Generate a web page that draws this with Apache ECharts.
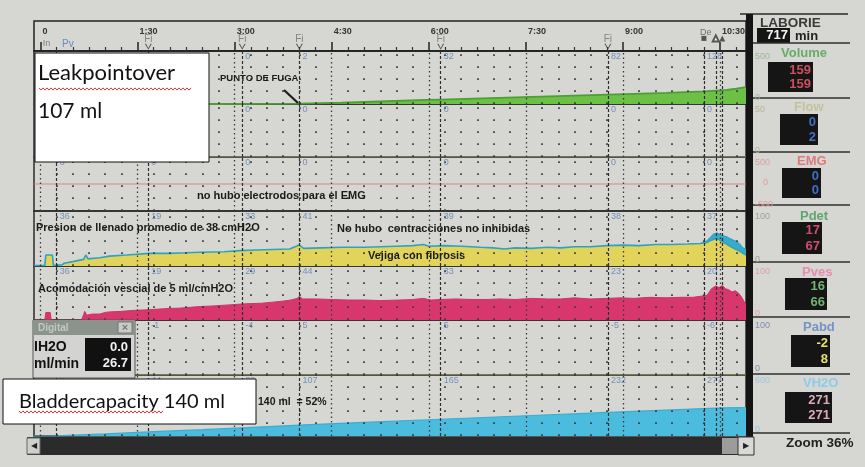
<!DOCTYPE html>
<html><head><meta charset="utf-8">
<script src="https://cdn.jsdelivr.net/npm/echarts@6.0.0/dist/echarts.min.js"></script>
<style>html,body{margin:0;padding:0;background:#d6d6d3;}#c{width:865px;height:467px;}</style>
</head><body><div id="c"></div>
<script>
// ---- data (time in seconds) ----
const timeTicks = [0, 90, 180, 270, 360, 450, 540, 630];
const timeTickLabels = ['0', '1:30', '3:00', '4:30', '6:00', '7:30', '9:00', '10:30'];
const fiTimes = [100, 187, 240, 371, 526];
const eventTimes = [15, 100, 187, 240, 371, 526, 615, 626, 632];
const labelTimes = [15, 100, 187, 240, 371, 526, 615];

const volume = [[-6,0],[162,0],[218,2],[240,4],[279,12],[357,38],[371,42],[448,65],[526,88],[580,105],[615,120],[636,132],[645,145],[654,159]];
const flow = [[-6,0],[654,0]];
const emg = [[-6,0],[654,0]];
const pdet = [[-6,1],[4,1],[5,20],[11,20],[12,1],[20,2],[22,5],[30,8],[40,12],[42,20],[44,13],[55,15],[64,18],[80,20],[101,23],[120,23],[135,24],[148,25],[170,26],[185,28],[200,29],[215,30],[231,31],[237,36],[240,38],[244,32],[260,33],[280,34],[300,34],[315,35],[330,36],[345,37],[355,39],[360,36],[375,37],[390,36],[408,34],[420,33],[430,31],[440,33],[455,32],[470,34],[482,33],[495,35],[510,35],[525,37],[540,38],[555,37],[570,39],[585,39],[600,40],[612,41],[618,43],[622,47],[626,50],[629,48],[632,44],[636,40],[640,35],[644,31],[648,27],[652,22],[654,20]];
const pdetPeak = [[612,41],[618,46],[621,52],[624,58],[627,60],[630,57],[633,55],[636,53],[639,50],[642,47],[645,45],[648,40],[651,33],[654,30]];
const pves = [[-6,0],[4,0],[5,14],[9,14],[10,0],[38,0],[40,10],[41,16],[43,9],[48,11],[55,11],[60,14],[64,15],[75,16],[88,18],[101,19],[115,21],[130,22],[148,25],[160,26],[175,28],[190,30],[205,31],[215,33],[225,35],[232,37],[238,40],[240,44],[243,39],[255,39],[270,38],[285,37],[300,37],[315,36],[333,37],[345,38],[355,40],[362,37],[371,38],[385,39],[400,38],[415,38],[426,39],[440,38],[455,40],[470,39],[482,39],[495,41],[510,39],[525,40],[538,41],[550,40],[565,42],[580,41],[593,42],[605,42],[612,44],[618,46],[622,58],[626,63],[629,60],[632,64],[635,58],[638,56],[641,52],[644,54],[647,50],[650,42],[652,35],[654,28]];
const pabd = [[-6,0],[654,0]];
const vh2o = [[-6,0],[12,0],[20,4],[60,20],[100,40],[150,62],[187,80],[240,107],[300,134],[371,165],[450,199],[526,232],[580,255],[615,270],[632,277],[654,279]];

const volLabels = ['0','0','0','2','32','82','128'];
const flowLabels = ['0','0','0','0','0','0','0'];
const emgLabels = ['0','0','0','0','0','0','0'];
const pdetLabels = ['36','19','33','41','39','38','37'];
const pvesLabels = ['36','19','29','44','33','23','20'];
const pabdLabels = ['0','-1','-4','5','5','-5','-6'];
const vh2oLabels = ['0','44','82','107','165','232','277'];

const channelNames = ['Volume','Flow','EMG','Pdet','Pves','Pabd','VH2O'];
const channelMax = [500, 50, 500, 100, 100, 100, 600];
const channelMin = [0, 0, -500, 0, 0, 0, 0];
const displayValues = [['159','159'],['0','2'],['0','0'],['17','67'],['16','66'],['-2','8'],['271','271']];

// ---- layout ----
const L = 34, R = 865 - 746;
const tops = [51, 104, 157, 211, 266, 320, 375];
const bots = [104, 157, 211, 266, 320, 375, 436];
const minor = [];
for (let t = 15; t < 654; t += 15) if (t % 90 !== 0) minor.push(t);

function vlines() {
  return {
    silent: true, symbol: 'none', animation: false, label: { show: false },
    emphasis: { disabled: true },
    data: [
      ...minor.map(t => ({ xAxis: t, lineStyle: { color: '#3a3a3a', width: 1.7, type: [1.7, 10.3] } })),
      ...timeTicks.map(t => ({ xAxis: t, lineStyle: { color: '#3a3a3a', width: 1.3, type: [1.5, 3] } })),
      ...eventTimes.map(t => ({ xAxis: t, lineStyle: { color: '#2e2e2e', width: 1.2, type: [3, 2] } }))
    ]
  };
}

const grids = [{ left: L, right: R, top: 21, height: 30, show: true, borderColor: '#222', borderWidth: 1.5 }];
tops.forEach((t, i) => grids.push({ left: L, right: R, top: t, height: bots[i] - t, show: true, borderColor: '#2b2b2b', borderWidth: 1.5 }));

const xAxes = [
  { gridIndex: 0, type: 'value', min: -6, max: 654, position: 'bottom',
    axisLine: { show: true, lineStyle: { color: '#222', width: 1.5 } },
    axisTick: { show: true, inside: true, length: 4, customValues: minor, lineStyle: { color: '#333', width: 1.2 } },
    axisLabel: { show: false }, splitLine: { show: false } },
  { gridIndex: 0, type: 'value', min: -6, max: 654, position: 'bottom',
    axisLine: { show: false },
    axisTick: { show: true, inside: true, length: 9, customValues: timeTicks, lineStyle: { color: '#222', width: 1.5 } },
    axisLabel: { show: true, inside: true, margin: 15, align: 'left', padding: [0, 0, 0, 2], customValues: timeTicks,
      formatter: v => timeTickLabels[timeTicks.indexOf(v)] || '', fontSize: 9, color: '#333', fontFamily: 'Liberation Sans', fontWeight: 'bold' },
    splitLine: { show: false } }
];
const yAxes = [{ gridIndex: 0, type: 'value', min: 0, max: 1, show: false }];
for (let i = 0; i < 7; i++) {
  xAxes.push({ gridIndex: i + 1, type: 'value', min: -6, max: 654, show: false });
  yAxes.push({ gridIndex: i + 1, type: 'value', min: channelMin[i], max: channelMax[i], show: false });
}
const ax = i => ({ xAxisIndex: i + 2, yAxisIndex: i + 1 });

function lineSeries(i, data, lineColor, width, areaColor, withLines, z) {
  const s = Object.assign({ type: 'line', data, showSymbol: false, symbol: 'none', animation: false, silent: true, z: z || 2,
    lineStyle: { color: lineColor, width }, itemStyle: { color: lineColor } }, ax(i));
  if (areaColor) s.areaStyle = { color: areaColor, opacity: 1 };
  if (withLines) s.markLine = vlines();
  return s;
}
function labelSeries(i, arr) {
  return Object.assign({ type: 'scatter', symbolSize: 0, silent: true, animation: false, z: 6,
    data: labelTimes.map(t => [t, channelMax[i]]),
    label: { show: true, position: [3, 1], formatter: p => arr[p.dataIndex], fontSize: 9, color: '#5b7fb2', fontFamily: 'Liberation Sans' } }, ax(i));
}

const chevron = 'path://M0 0 L1.8 0 L5 5 L8.2 0 L10 0 L5 7 Z';
const series = [
  { type: 'scatter', xAxisIndex: 1, yAxisIndex: 0, data: fiTimes.map(t => [t, 0.14]), symbol: chevron, symbolSize: [7, 6], silent: true, animation: false,
    itemStyle: { color: '#3a3a3a' }, label: { show: true, formatter: 'Fi', position: 'top', distance: 0, color: '#6e6e6e', fontSize: 10, fontFamily: 'Liberation Sans' } },
  { type: 'scatter', xAxisIndex: 1, yAxisIndex: 0, data: [[2, 0.2]], symbolSize: 0, silent: true, animation: false,
    label: { show: true, formatter: 'In', position: [0, -6], color: '#666', fontSize: 9, fontFamily: 'Liberation Sans' } },
  { type: 'scatter', xAxisIndex: 1, yAxisIndex: 0, data: [[20, 0.2]], symbolSize: 0, silent: true, animation: false,
    label: { show: true, formatter: 'Pv', position: [0, -6], color: '#4a7ab5', fontSize: 10, fontFamily: 'Liberation Sans' } },
  { type: 'scatter', xAxisIndex: 1, yAxisIndex: 0, data: [[615, 0.55]], symbolSize: 0, silent: true, animation: false,
    label: { show: true, formatter: 'De', position: [-4, -6], color: '#555', fontSize: 9, fontFamily: 'Liberation Sans' } },
  { type: 'scatter', xAxisIndex: 1, yAxisIndex: 0, silent: true, animation: false,
    data: [{ value: [615, 0.42], symbol: 'rect', symbolSize: 5, itemStyle: { color: '#333' } },
           { value: [626, 0.42], symbol: 'emptyTriangle', symbolSize: 6, itemStyle: { color: '#333', borderColor: '#333' } },
           { value: [632, 0.42], symbol: 'triangle', symbolSize: 6, itemStyle: { color: '#333' } }] },

  lineSeries(0, volume, '#4f9e35', 1.8, '#6cc046', true),
  lineSeries(1, flow, '#b9b58c', 1, null, true),
  lineSeries(2, emg, '#d8848a', 1.1, null, true),
  lineSeries(3, pdetPeak, '#2ea5c6', 1.2, '#37abcb', false, 2),
  lineSeries(3, pdet, '#2ea3bf', 1.6, '#e2d45a', true, 3),
  lineSeries(4, pves, '#d2306a', 1, '#d8376d', true),
  lineSeries(5, pabd, '#bdbb70', 1, null, true),
  lineSeries(6, vh2o, '#38aed2', 1.2, '#4bbcde', true),

  labelSeries(0, volLabels), labelSeries(1, flowLabels), labelSeries(2, emgLabels),
  labelSeries(3, pdetLabels), labelSeries(4, pvesLabels), labelSeries(5, pabdLabels), labelSeries(6, vh2oLabels)
];

// ---- graphics (annotations, right panel, frames) ----
const G = [];
const Z = 100;
const F = 'Liberation Sans';
function txt(x, y, text, font, fill, align, extra) {
  G.push(Object.assign({ type: 'text', x, y, z: Z, silent: true, style: { text, font, fill, align: align || 'left', verticalAlign: 'middle' } }, extra || {}));
}
function rect(x, y, w, h, fill, stroke, lw, z) {
  G.push({ type: 'rect', z: z || Z, silent: true, shape: { x, y, width: w, height: h }, style: { fill, stroke: stroke || null, lineWidth: lw || 1 } });
}
function line(x1, y1, x2, y2, stroke, lw, z) {
  G.push({ type: 'line', z: z || Z, silent: true, shape: { x1, y1, x2, y2 }, style: { stroke, lineWidth: lw || 1 } });
}
function wavy(x0, x1, y) {
  const pts = [];
  for (let x = x0, i = 0; x <= x1; x += 2, i++) pts.push([x, y + (i % 2 ? 1.1 : -1.1)]);
  G.push({ type: 'polyline', z: Z + 2, silent: true, shape: { points: pts }, style: { stroke: '#d43a3a', lineWidth: 1, fill: null } });
}

// annotations in the plot
const B = 'bold 11px ' + F;
txt(220, 78, 'PUNTO DE FUGA', 'bold 9.5px ' + F, '#1b1b1b');
line(284, 90, 298, 103, '#1b1b1b', 2.2);
txt(197, 196, 'no hubo electrodos para el EMG', B, '#1b1b1b');
txt(36, 228, 'Presion de llenado promedio de 38 cmH2O', B, '#1b1b1b');
txt(337, 229, 'No hubo  contracciones no inhibidas', B, '#1b1b1b');
txt(368, 256, 'Vejiga con fibrosis', B, '#1b1b1b');
txt(38, 289, 'Acomodación vescial de 5 ml/cmH2O', B, '#1b1b1b');
txt(258, 402, '140 ml  = 52%', 'bold 10.5px ' + F, '#1b1b1b');

// Digital dialog
rect(33, 320, 102, 58, '#d3d3d1', '#555', 1);
rect(33, 320, 102, 15, '#8c928c', null);
txt(38, 328, 'Digital', 'bold 10px ' + F, '#c4c8c4');
rect(118, 322, 14, 11, '#c9cbc9', '#777', 1);
txt(125, 327.5, '×', 'bold 11px ' + F, '#777', 'center');
txt(34, 347, 'IH2O', 'bold 14px ' + F, '#111');
txt(34, 364, 'ml/min', 'bold 14px ' + F, '#111');
rect(85, 338, 46, 33, '#111', null);
txt(128, 347, '0.0', 'bold 13px ' + F, '#f2f2f2', 'right');
txt(128, 363, '26.7', 'bold 13px ' + F, '#f2f2f2', 'right');

// white annotation boxes
rect(35, 53, 174, 109, '#ffffff', '#111', 1, Z + 1);
txt(38, 73, 'Leakpointover', '22px Lato', '#111', 'left', { z: Z + 2 });
txt(38, 111, '107 ml', '21px Lato', '#111', 'left', { z: Z + 2 });
wavy(39, 191, 89);
rect(3, 379, 253, 45, '#ffffff', '#111', 1, Z + 1);
txt(19, 402, 'Bladdercapacity 140 ml', '20px Lato', '#111', 'left', { z: Z + 2 });
wavy(19, 163, 412);

// right black bar and scrollbar
rect(746, 14, 7, 441, '#141414', null, 1, Z + 3);
rect(27, 437, 719, 18, '#2b2b2b', null, 1, Z + 3);
rect(27, 438, 13, 16, '#cfcfcd', '#666', 1, Z + 4);
txt(33.5, 446, '◀', '8px ' + F, '#222', 'center', { z: Z + 5 });
rect(722, 438, 16, 16, '#9c9c9a', null, 1, Z + 4);
rect(738, 437, 16, 18, '#d8d8d6', '#333', 1, Z + 4);
txt(746, 446, '▶', '8px ' + F, '#222', 'center', { z: Z + 5 });

// right panel
line(740, 14, 848, 14, '#2a2a2a', 1.5);
txt(760, 23, 'LABORIE', 'bold 13.5px ' + F, '#3a3a3a');
rect(757, 28, 33, 15, '#151515', null);
txt(788, 35.5, '717', 'bold 13px ' + F, '#f4f4f4', 'right');
txt(795, 36, 'min', 'bold 13px ' + F, '#222');
const sepY = [43, 98, 152, 205, 262, 317, 374, 433];
sepY.forEach(y => line(753, y, 850, y, '#2f2f2f', 1.5));
const nameColors = ['#6aab6c', '#c4c29a', '#df7a7c', '#5fa56f', '#e88cb0', '#7593c4', '#8ccbea'];
const nameY = [53, 107, 161, 216, 272, 327, 383];
const nameX = [781, 794, 797, 800, 802, 803, 803];
channelNames.forEach((n, i) => txt(nameX[i], nameY[i], n, 'bold 13px ' + F, nameColors[i]));
const boxes = [[768, 62, 45, 30], [780, 114, 38, 31], [782, 168, 39, 30], [782, 222, 40, 32], [785, 278, 42, 32], [791, 335, 39, 32], [785, 392, 47, 31]];
const valColors = ['#c9505f', '#3f6fc9', '#3f6fc9', '#cf4d6c', '#72b372', '#e8e26c', '#ddaab8'];
boxes.forEach((b, i) => {
  rect(b[0], b[1], b[2], b[3], '#151515', null);
  txt(b[0] + b[2] - 2, b[1] + 8, displayValues[i][0], 'bold 13px ' + F, valColors[i], 'right');
  txt(b[0] + b[2] - 2, b[1] + b[3] - 8, displayValues[i][1], 'bold 13px ' + F, valColors[i], 'right');
});
// channel scale labels
const scaleTop = ['500', '50', '500', '100', '100', '100', '600'];
const scaleBot = ['0', '0', '-500', '0', '0', '0', '0'];
const scaleCol = ['#9cb89c', '#b8b898', '#e0a0a0', '#a0a0a0', '#e0a0b8', '#7f8fb0', '#9cc8e0'];
tops.forEach((t, i) => {
  txt(755, t + 6, scaleTop[i], '9px ' + F, scaleCol[i], 'left', { z: Z + 4 });
  txt(755, bots[i] - 6, scaleBot[i], '9px ' + F, scaleCol[i], 'left', { z: Z + 4 });
});
txt(763, 183, '0', '9px ' + F, '#e0a0a0', 'left', { z: Z + 4 });
txt(786, 443, 'Zoom 36%', 'bold 13.5px ' + F, '#222');

const chart = echarts.init(document.getElementById('c'));
chart.setOption({
  backgroundColor: '#d6d6d3',
  animation: false,
  grid: grids, xAxis: xAxes, yAxis: yAxes, series, graphic: { elements: G }
});
</script></body></html>
